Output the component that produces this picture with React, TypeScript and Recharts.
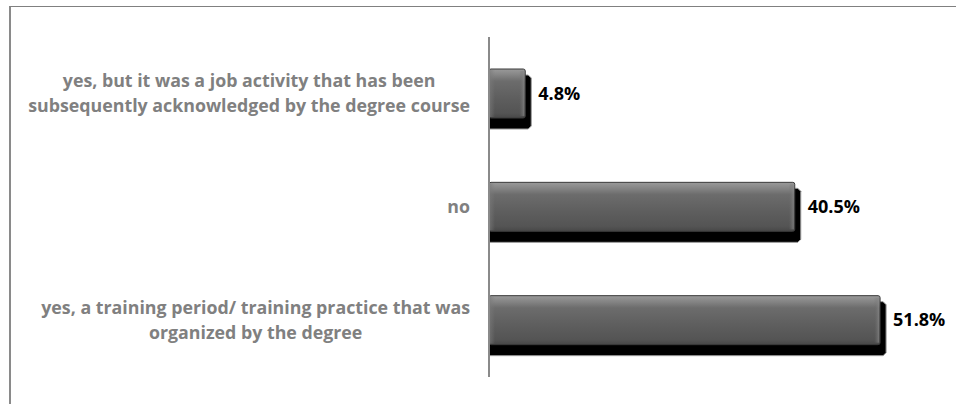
import { BarChart, Bar, XAxis, YAxis, LabelList } from "recharts";

const categories = [
  "yes, but it was a job activity that has been\nsubsequently acknowledged by the degree course",
  "no",
  "yes, a training period/ training practice that was\norganized by the degree",
];
const shares = [4.8, 40.5, 51.8];

const data = categories.map((name, i) => ({ name, value: shares[i] }));

const LABEL_SIZE = 17.8;
const LABEL_FONT = `bold ${LABEL_SIZE}px 'Open Sans'`;
const LABEL_RIGHT = 470;
const LINE_H = 25;

let ctx: CanvasRenderingContext2D | null = null;
function textWidth(s: string) {
  if (!ctx) ctx = document.createElement("canvas").getContext("2d");
  if (!ctx) return s.length * 9;
  ctx.font = LABEL_FONT;
  return ctx.measureText(s).width;
}

// category label: lines centred on each other, block pushed against the axis
function CategoryTick(props: any) {
  const { y, payload } = props;
  const lines: string[] = String(payload.value).split("\n");
  const blockW = Math.max(...lines.map(textWidth));
  const cx = LABEL_RIGHT - blockW / 2;
  return (
    <text
      x={cx}
      y={y}
      textAnchor="middle"
      fill="#808080"
      fontFamily="'Open Sans', sans-serif"
      fontWeight="bold"
      fontSize={LABEL_SIZE}
    >
      {lines.map((l, i) => (
        <tspan key={i} x={cx} y={y + (i - (lines.length - 1) / 2) * LINE_H} dy="0.35em">
          {l}
        </tspan>
      ))}
    </text>
  );
}

function BevelBar(props: any) {
  const { x, y, width, height } = props;
  if (!width || width <= 0) return null;
  const sx = 6;
  const sy = 11;
  const c = 3;
  const shadow = `M${x},${y + 6} L${x + width + sx - c},${y + 6} L${x + width + sx},${y + 6 + c} L${x + width + sx},${y + height + sy - c} L${x + width + sx - c},${y + height + sy} L${x},${y + height + sy} Z`;
  return (
    <g>
      <path d={shadow} fill="#000" stroke="#9a9a9a" strokeWidth={1} />
      <rect x={x} y={y} width={width} height={height} fill="url(#faceGrad)" stroke="#3a3a3a" strokeWidth={1} rx={2} />
      <rect x={x + width - 6} y={y + 2} width={5} height={height - 4} fill="url(#edgeGrad)" />
      <rect x={x + 1} y={y + 1} width={5} height={height - 2} fill="url(#leftGrad)" />
    </g>
  );
}

function ValueLabel(props: any) {
  const { x, y, width, height, value } = props;
  return (
    <text
      x={x + width + 13}
      y={y + height / 2}
      dy="0.35em"
      fill="#000"
      fontFamily="'Open Sans', sans-serif"
      fontWeight="bold"
      fontSize={18}
    >
      {`${Number(value).toFixed(1)}%`}
    </text>
  );
}

export default function App() {
  return (
    <div style={{ position: "absolute", left: 0, top: 0, width: 956, height: 404, background: "#fff" }}>
      <div
        style={{
          position: "absolute",
          left: 9,
          top: 6,
          width: 947,
          height: 398,
          borderTop: "1px solid #808080",
          borderLeft: "2px solid #8a8a8a",
          boxSizing: "border-box",
        }}
      />
      <div style={{ position: "absolute", left: 0, top: 0 }}>
        <BarChart
          width={956}
          height={404}
          layout="vertical"
          data={data}
          margin={{ top: 37, right: 14, bottom: 27, left: 0 }}
        >
          <defs>
            <linearGradient id="faceGrad" x1="0" y1="0" x2="0" y2="1">
              <stop offset="0" stopColor="#9a9a9a" />
              <stop offset="0.12" stopColor="#858585" />
              <stop offset="0.25" stopColor="#6c6c6c" />
              <stop offset="0.6" stopColor="#5e5e5e" />
              <stop offset="0.9" stopColor="#545454" />
              <stop offset="1" stopColor="#474747" />
            </linearGradient>
            <linearGradient id="edgeGrad" x1="0" y1="0" x2="1" y2="0">
              <stop offset="0" stopColor="#6a6a6a" stopOpacity={0} />
              <stop offset="1" stopColor="#8a8a8a" stopOpacity={0.7} />
            </linearGradient>
            <linearGradient id="leftGrad" x1="0" y1="0" x2="1" y2="0">
              <stop offset="0" stopColor="#7a7a7a" stopOpacity={0.6} />
              <stop offset="1" stopColor="#7a7a7a" stopOpacity={0} />
            </linearGradient>
          </defs>
          <XAxis type="number" domain={[0, 60]} hide />
          <YAxis
            type="category"
            dataKey="name"
            width={489}
            axisLine={{ stroke: "#8a8a8a", strokeWidth: 2 }}
            tickLine={false}
            tick={<CategoryTick />}
            interval={0}
          />
          <Bar dataKey="value" barSize={49} shape={<BevelBar />} isAnimationActive={false}>
            <LabelList dataKey="value" content={<ValueLabel />} />
          </Bar>
        </BarChart>
      </div>
    </div>
  );
}
